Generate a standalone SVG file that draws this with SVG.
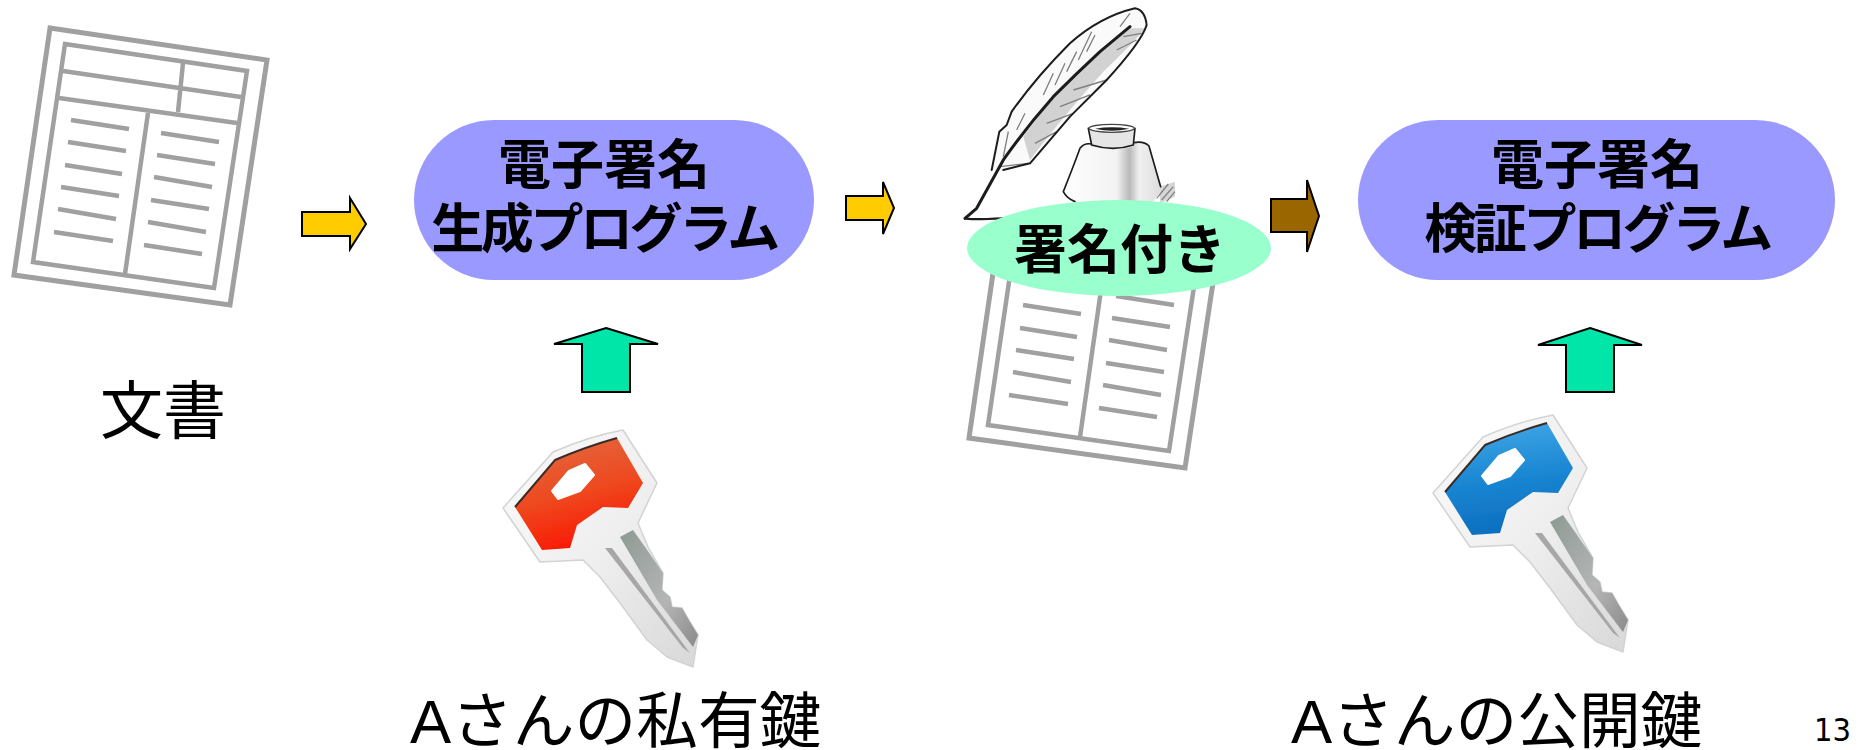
<svg xmlns="http://www.w3.org/2000/svg" width="1860" height="750" viewBox="0 0 1860 750">
<style>
text{font-family:"Liberation Sans","Noto Sans CJK JP",sans-serif;fill:#000}
.b{font-weight:700;font-size:53px;text-anchor:middle}
.b2{font-weight:700;font-size:53px;text-anchor:middle;letter-spacing:-3.4px}
.r{font-size:61.7px}
.pill{fill:#9999ff}
.arr{stroke:#000;stroke-width:2;stroke-linejoin:miter}
.d{fill:none;stroke:#a0a0a0;stroke-width:5}
.t{fill:none;stroke:#a0a0a0;stroke-width:4.5}
.ink{fill:none;stroke:#1c1c1c;stroke-linecap:round;stroke-linejoin:round}
.hat{fill:none;stroke:#808080;stroke-width:4}
</style>
<defs>
<filter id="soft" x="-5%" y="-5%" width="110%" height="110%"><feGaussianBlur stdDeviation="0.6"/></filter>
<linearGradient id="red" x1="0.25" y1="0" x2="0.55" y2="1"><stop offset="0" stop-color="#e2683f"/><stop offset="0.5" stop-color="#ee4a20"/><stop offset="1" stop-color="#fb1500"/></linearGradient>
<linearGradient id="blue" x1="0.4" y1="0" x2="0.55" y2="1"><stop offset="0" stop-color="#3fa6e6"/><stop offset="0.5" stop-color="#1a86d2"/><stop offset="1" stop-color="#0b6dbe"/></linearGradient>
<linearGradient id="blade" x1="0" y1="0" x2="1" y2="1"><stop offset="0" stop-color="#8e9a94"/><stop offset="0.6" stop-color="#b5b5b5"/><stop offset="1" stop-color="#8a8a8a"/></linearGradient>
<linearGradient id="metal" x1="0" y1="0" x2="1" y2="1"><stop offset="0" stop-color="#fafafa"/><stop offset="0.5" stop-color="#efefef"/><stop offset="1" stop-color="#d8d8d8"/></linearGradient>
<linearGradient id="well" x1="0" y1="0" x2="1" y2="0"><stop offset="0" stop-color="#fff"/><stop offset="0.55" stop-color="#f2f2f2"/><stop offset="0.68" stop-color="#b9b9b9"/><stop offset="0.78" stop-color="#f0f0f0"/><stop offset="1" stop-color="#ddd"/></linearGradient>
<clipPath id="lowerDoc"><rect x="960" y="250" width="260" height="240"/></clipPath>
<g id="doc">
<path class="d" d="M50 28L267 60L230 305L14 275Z"/>
<path class="t" d="M65 44L247 71L214 288L33 262Z"/>
<path class="t" d="M63 71L241 97M59 98L237 123M183 63L178 112M148 113L125 274"/>
<path class="t" d="M71 120L129 129M68 142L126 151M65 165L122 174M61 187L119 196M58 209L116 219M54 232L113 241M161 133L219 142M157 155L215 164M154 177L212 187M151 200L209 209M148 222L206 232M144 245L202 254"/>
</g>
<g id="keybody">
<path d="M33 108L83 52Q120 36 153 30L187 83L168 123L178 147L193 173L192 190L200 197L202 207L212 208L220 222L228 235L223 267L197 257L177 240L150 203L130 177L113 160L70 162Z" fill="url(#metal)" stroke="#d0d4d4" stroke-width="1.5" stroke-linejoin="round" filter="url(#soft)"/>
<path d="M150 137L163 130L175 147L193 173L192 190L200 197L202 207L212 208L220 222L228 235L223 247L187 200Z" fill="url(#blade)" filter="url(#soft)"/>
<path d="M135 148L142 148L220 253L213 248Z" fill="#a5a8a6" filter="url(#soft)"/>
</g>
<g id="keyhead">
<path d="M45 107L85 60Q115 47 147 38L173 83L158 108L133 107L107 125L100 148L72 150Z" filter="url(#soft)"/>
<path d="M45 107L85 60Q115 47 147 38" fill="none" stroke="#3a2a25" stroke-width="2" filter="url(#soft)"/>
<path d="M82 91L99 71L115 64L124 75L110 91L88 99Z" fill="#fff" stroke="#fff" stroke-width="2" stroke-linejoin="round" filter="url(#soft)"/>
</g>
</defs>
<rect width="1860" height="750" fill="#fff"/>

<g id="connectors">
<path class="arr" fill="#ffcc00" d="M302 212H350V198L366 224L350 249V236H302Z"/>
<path class="arr" fill="#ffcc00" d="M846 196H883V182L894 208L883 234V220H846Z"/>
<path class="arr" fill="#996600" d="M1271 199H1307V180L1319 216L1307 252V232H1271Z"/>
<path class="arr" fill="#00e5a8" d="M606 328L658 344H630V392H582V344H554Z"/>
<path class="arr" fill="#00e5a8" d="M1590 328L1642 345H1614V392H1566V345H1538Z"/>
</g>

<g id="doc-plain"><use href="#doc" filter="url(#soft)"/></g>
<g id="label-doc"><text class="r" x="100" y="433" style="font-size:63px">文書</text></g>

<g id="node-sign">
<rect class="pill" x="414" y="120" width="400" height="160" rx="80" ry="80"/>
<text class="b" x="604" y="184">電子署名</text>
<text class="b2" x="604" y="248">生成プログラム</text>
</g>

<g id="key-private" transform="translate(470,400)">
<use href="#keybody"/>
<use href="#keyhead" fill="url(#red)"/>
</g>
<g id="label-private"><text class="r" x="410" y="743">Aさんの私有鍵</text></g>

<g id="signed-doc">
<g clip-path="url(#lowerDoc)"><use href="#doc" transform="translate(955,163)" filter="url(#soft)"/></g>
<g id="quill" transform="translate(960,0) scale(0.3333)" filter="url(#soft)">
<path d="M598 560L645 545L645 590L600 610Z" fill="#c4c4c4" opacity="0.7"/>
<path class="hat" d="M590 595L625 552M605 600L640 560M620 605L645 575"/>
<path d="M360 445Q372 428 395 432L520 428Q552 422 567 438L602 560Q600 600 560 612H345Q315 595 310 575Z" fill="url(#well)"/>
<path class="ink" stroke-width="5" d="M310 575Q340 500 360 445Q372 428 395 432M520 428Q552 422 567 438L602 560M310 575Q320 595 345 605"/>
<path d="M385 385H525L520 440Q460 455 395 440Z" fill="#e6e6e6"/>
<path class="ink" stroke-width="5" d="M385 385L395 435Q460 455 520 435L525 385"/>
<ellipse cx="455" cy="385" rx="68" ry="12" fill="#fff" stroke="#444" stroke-width="4"/>
<path d="M405 386Q455 378 508 386Q455 398 405 386Z" fill="#222"/>
<path d="M95 510L118 395L140 375L155 335Q230 230 330 130Q420 50 525 25Q555 30 560 75Q545 125 440 240L330 350L210 490L130 510Z" fill="#fafafa"/>
<path d="M210 480Q300 360 430 215Q530 120 555 85L510 85L420 160L280 290L190 410Z" fill="#c8c8c8" opacity="0.8"/>
<path class="hat" d="M250 285L280 220M285 255L315 190M320 215L350 155M355 180L395 95M380 155L405 105M480 80L510 40M170 390L195 340M130 470L145 395M225 430L290 395M260 370L340 340M300 320L390 285M340 270L440 240M470 150L530 120M490 110L545 100M120 500L205 490"/>
<path class="ink" stroke-width="6" d="M95 510L118 395L140 375L155 335Q230 230 330 130Q420 50 525 25Q555 30 560 75Q545 125 440 240L330 350L210 490L130 510"/>
<path class="ink" stroke-width="9" d="M15 655L50 625L130 480Q200 380 280 290Q350 220 420 155L510 80"/>
<path class="ink" stroke-width="7" d="M15 655Q25 660 130 655"/>
</g>
</g>

<g id="node-signed">
<ellipse cx="1119" cy="248" rx="152" ry="48" fill="#99ffcc"/>
<text class="b" x="1120" y="269">署名付き</text>
</g>

<g id="node-verify">
<rect class="pill" x="1358" y="120" width="477" height="160" rx="80" ry="80"/>
<text class="b" x="1597" y="184">電子署名</text>
<text class="b2" x="1597" y="248">検証プログラム</text>
</g>

<g id="key-public" transform="translate(1400,385)">
<use href="#keybody"/>
<use href="#keyhead" fill="url(#blue)"/>
</g>
<g id="label-public"><text class="r" x="1291" y="743">Aさんの公開鍵</text></g>

<text x="1814" y="741" font-size="32" textLength="37" lengthAdjust="spacingAndGlyphs" style="font-family:'DejaVu Sans',sans-serif">13</text>
</svg>
